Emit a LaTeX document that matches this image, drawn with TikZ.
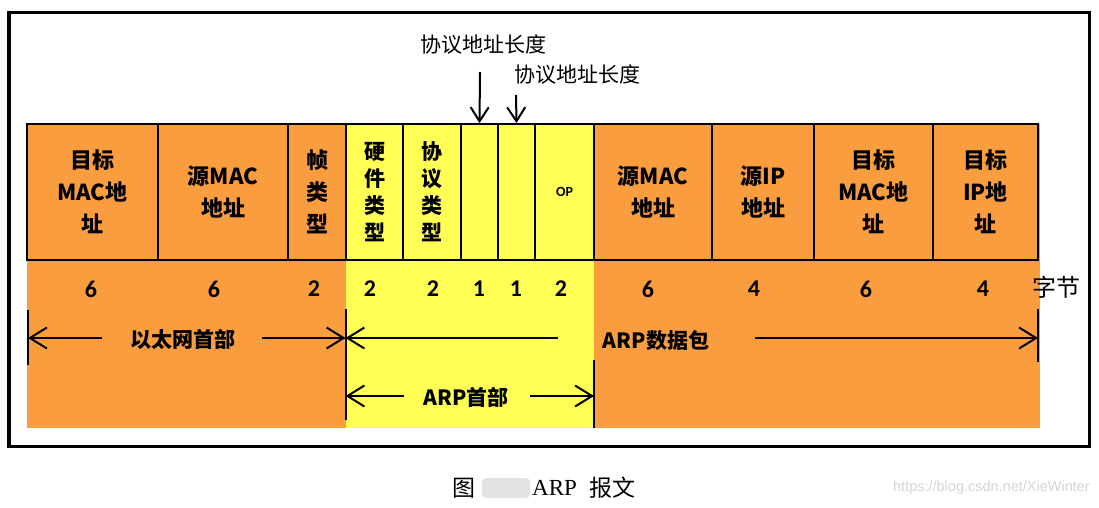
\documentclass[tikz,border=0pt]{standalone}
\usepackage{fontspec}
\setmainfont{Carlito}
\newfontfamily\cjk{Noto Sans CJK SC}
\newfontfamily\serifl{Liberation Serif}
\newfontfamily\wmfont{Liberation Sans}
\usetikzlibrary{arrows.meta}
\definecolor{orng}{HTML}{F99D3E}
\definecolor{ylw}{HTML}{FFFF55}
\definecolor{wmgray}{HTML}{D4D4D4}
\begin{document}
\begin{tikzpicture}[x=1pt,y=-1pt,
  cell/.style={draw=black, line width=1.8pt, minimum height=136pt, inner sep=0pt, align=center,
               font=\cjk\bfseries\fontsize{22}{32}\selectfont},
  vcell/.style={cell, font=\cjk\bfseries\fontsize{21}{27}\selectfont},
  num/.style={font=\bfseries\fontsize{24}{24}\selectfont, inner sep=0pt},
  dimtext/.style={font=\cjk\bfseries\fontsize{21}{21}\selectfont, inner sep=0pt},
  toptext/.style={font=\cjk\fontsize{21}{21}\selectfont, inner sep=0pt},
  dimarrow/.style={line width=2pt, -{Straight Barb[length=17pt,width=21pt]}},
  toparrow/.style={line width=2pt, -{Straight Barb[length=14pt,width=18pt]}},
  tick/.style={line width=2pt}
]
\useasboundingbox (0,0) rectangle (1099,507);
% background fills
\fill[orng] (27,124) rectangle (346,428);
\fill[ylw] (346,124) rectangle (594,428);
\fill[orng] (594,124) rectangle (1040,428);
% outer frame
\draw[line width=3.5pt] (9,12.5) rectangle (1089.5,446.5);
% cells
\node[cell, minimum width=131pt] (c1) at (92.5,192) {目标\\MAC地\\址};
\node[cell, minimum width=130pt] (c2) at (223,192) {源MAC\\地址};
\node[cell, minimum width=58pt] (c3) at (317,192) {帧\\类\\型};
\node[vcell, minimum width=57pt] (c4) at (374.5,192) {硬\\件\\类\\型};
\node[vcell, minimum width=58pt] (c5) at (432,192) {协\\议\\类\\型};
\node[cell, minimum width=37pt] (c6) at (479.5,192) {};
\node[cell, minimum width=37pt] (c7) at (516.5,192) {};
\node[cell, minimum width=59pt, font=\bfseries\fontsize{14}{14}\selectfont] (c8) at (564.5,192) {OP};
\node[cell, minimum width=118pt] (c9) at (653,192) {源MAC\\地址};
\node[cell, minimum width=102pt] (c10) at (763,192) {源IP\\地址};
\node[cell, minimum width=119pt] (c11) at (873.5,192) {目标\\MAC地\\址};
\node[cell, minimum width=105pt] (c12) at (985.5,192) {目标\\IP地\\址};
% byte counts
\node[num] (n1) at (91,289) {6};
\node[num] (n2) at (214,289) {6};
\node[num] (n3) at (314,289) {2};
\node[num] (n4) at (370,289) {2};
\node[num] (n5) at (433,289) {2};
\node[num] (n6) at (479,289) {1};
\node[num] (n7) at (516,289) {1};
\node[num] (n8) at (561,289) {2};
\node[num] (n9) at (648,289) {6};
\node[num] (n10) at (754,289) {4};
\node[num] (n11) at (866,289) {6};
\node[num] (n12) at (983,289) {4};
\node[font=\cjk\fontsize{24}{24}\selectfont, inner sep=0pt] (unit) at (1056,287) {字节};
% top labels
\node[toptext] (t1) at (483,45) {协议地址长度};
\node[toptext] (t2) at (577,75) {协议地址长度};
\coordinate (t1s) at (480,72);
\coordinate (t2s) at (516,95);
\draw[toparrow] (t1s) -- (c6.north);
\draw[toparrow] (t2s) -- (c7.north);
% ticks
\coordinate (k1a) at (28,310);   \coordinate (k1b) at (28,365);
\coordinate (k2a) at (345.5,309); \coordinate (k2b) at (345.5,420);
\coordinate (k3a) at (594,360);  \coordinate (k3b) at (594,428);
\coordinate (k4a) at (1038,309); \coordinate (k4b) at (1038,362);
\draw[tick] (k1a) -- (k1b);
\draw[tick] (k2a) -- (k2b);
\draw[tick] (k3a) -- (k3b);
\draw[tick] (k4a) -- (k4b);
% Ethernet header
\node[dimtext] (eth) at (183,339) {以太网首部};
\coordinate (e1) at (102,338); \coordinate (e1e) at (28,338);
\coordinate (e2) at (262,338); \coordinate (e2e) at (345.5,338);
\draw[dimarrow] (e1) -- (e1e);
\draw[dimarrow] (e2) -- (e2e);
% ARP packet
\node[dimtext] (arp) at (656,341) {ARP数据包};
\coordinate (p1) at (558,338); \coordinate (p1e) at (345.5,338);
\coordinate (p2) at (755,338); \coordinate (p2e) at (1038,338);
\draw[dimarrow] (p1) -- (p1e);
\draw[dimarrow] (p2) -- (p2e);
% ARP header
\node[dimtext] (arph) at (466,397) {ARP首部};
\coordinate (h1) at (404,396); \coordinate (h1e) at (345.5,396);
\coordinate (h2) at (530,396); \coordinate (h2e) at (594,396);
\draw[dimarrow] (h1) -- (h1e);
\draw[dimarrow] (h2) -- (h2e);
% caption
\node[font=\cjk\fontsize{23}{23}\selectfont, inner sep=0pt] (cap1) at (464,488) {图};
\fill[gray!22, rounded corners=4pt] (482,478) rectangle (530,498);
\node[font=\serifl\fontsize{23}{23}\selectfont, inner sep=0pt, anchor=west] (cap2) at (532,488) {ARP};
\node[font=\cjk\fontsize{23}{23}\selectfont, inner sep=0pt, anchor=west] (cap3) at (589,488) {报文};
\node[font=\wmfont\fontsize{14.5}{14.5}\selectfont, text=wmgray, inner sep=0pt, anchor=east] (wm) at (1090,488) {https://blog.csdn.net/XieWinter};
\end{tikzpicture}
\end{document}
